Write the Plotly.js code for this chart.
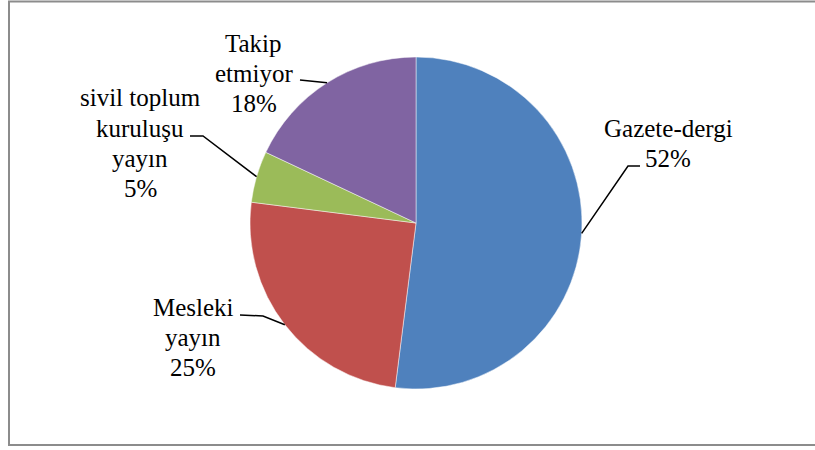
<!DOCTYPE html>
<html>
<head>
<meta charset="utf-8">
<script src="https://cdn.plot.ly/plotly-3.0.1.min.js"></script>
<style>html,body{margin:0;padding:0;background:#fff}#chart{width:815px;height:450px}</style>
</head>
<body>
<div id="chart"></div>
<script>
const categories = ['Gazete-dergi', 'Mesleki yayın', 'sivil toplum kuruluşu yayın', 'Takip etmiyor'];
const values = [52, 25, 5, 18];
const colors = ['#4F81BD', '#C0504D', '#9BBB59', '#8064A2'];
const labelLines = [['Gazete-dergi'], ['Mesleki', 'yayın'], ['sivil toplum', 'kuruluşu', 'yayın'], ['Takip', 'etmiyor']];

const W = 815, H = 450;
const cx = 416, cy = 223, R = 166;
const px = x => x / W;
const py = y => 1 - y / H;

// label placement (layout): first-line center and leader elbow points (px)
const labelPos = [
  {x: 668, y: 129, lead: [[640, 166], [628, 166]]},
  {x: 193, y: 307, lead: [[240, 315], [263, 316]]},
  {x: 140, y: 98, lead: [[190, 136], [203, 136]]},
  {x: 254, y: 44, lead: [[300, 80]]}
];
const lineGap = 30;
const serif = 'Liberation Serif, DejaVu Serif, Times New Roman, serif';

const total = values.reduce((a, b) => a + b, 0);
const annotations = [];
const shapes = [];
let cum = 0;
values.forEach((v, i) => {
  const th = 2 * Math.PI * (cum + v / 2) / total;
  cum += v;
  const ex = cx + R * Math.sin(th), ey = cy - R * Math.cos(th);
  const lines = labelLines[i].concat([Math.round(100 * v / total) + '%']);
  lines.forEach((t, k) => {
    annotations.push({
      xref: 'paper', yref: 'paper',
      x: px(labelPos[i].x), y: py(labelPos[i].y + k * lineGap),
      xanchor: 'center', yanchor: 'middle',
      text: t, showarrow: false,
      font: {family: serif, size: 25, color: '#000'}
    });
  });
  const pts = labelPos[i].lead.concat([[ex, ey]]);
  const d = pts.map((p, k) => (k ? 'L' : 'M') + px(p[0]) + ',' + py(p[1])).join(' ');
  shapes.push({type: 'path', xref: 'paper', yref: 'paper', path: d, line: {color: '#000', width: 1.5}});
});

// chart border
shapes.push({type: 'rect', xref: 'paper', yref: 'paper',
  x0: px(9), x1: px(830), y0: py(445), y1: py(1.5),
  line: {color: '#8c8c8c', width: 2}, fillcolor: 'rgba(0,0,0,0)'});

const data = [{
  type: 'pie',
  labels: categories,
  values: values,
  sort: false,
  direction: 'clockwise',
  rotation: 0,
  textinfo: 'none',
  hoverinfo: 'none',
  marker: {colors: colors, line: {color: 'rgba(255,255,255,0.6)', width: 0.8}},
  domain: {x: [px(cx - R), px(cx + R)], y: [py(cy + R), py(cy - R)]},
  showlegend: false
}];

const layout = {
  width: W, height: H,
  margin: {l: 0, r: 0, t: 0, b: 0},
  paper_bgcolor: '#fff',
  font: {family: serif},
  showlegend: false,
  annotations: annotations,
  shapes: shapes
};

Plotly.newPlot('chart', data, layout, {displayModeBar: false, staticPlot: true});
</script>
</body>
</html>
